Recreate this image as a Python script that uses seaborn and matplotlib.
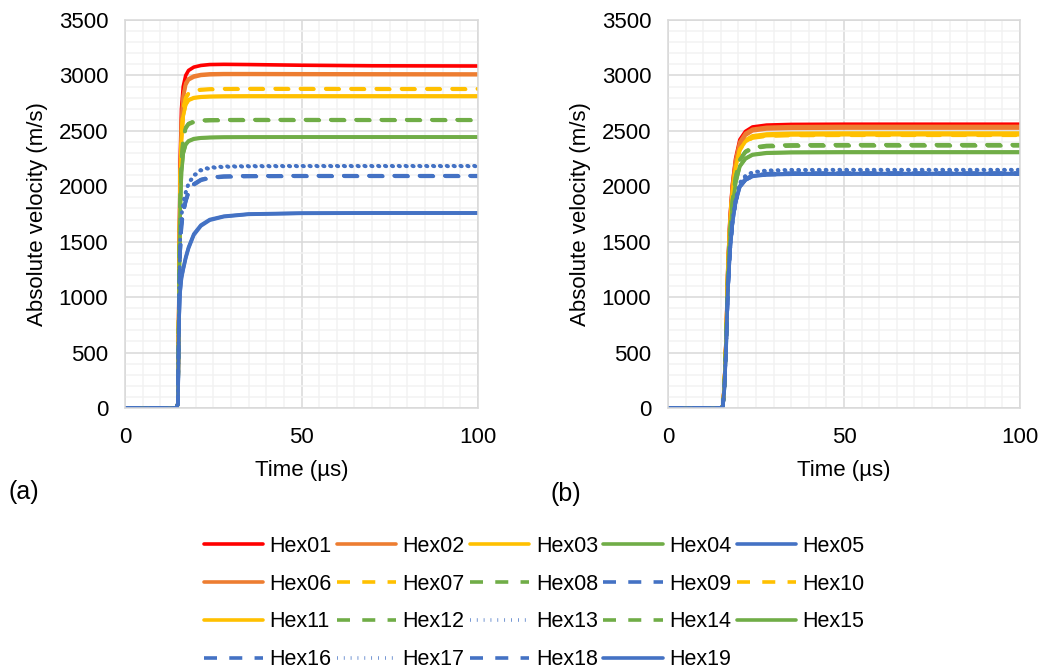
import numpy as np
import pandas as pd
import matplotlib
matplotlib.use("Agg")
import matplotlib.pyplot as plt
from matplotlib.lines import Line2D
from matplotlib.ticker import MultipleLocator
from matplotlib import font_manager
import seaborn as sns

sns.set_theme(style="white")
plt.rcParams['font.family'] = ['Liberation Sans', 'DejaVu Sans']
plt.rcParams['text.color'] = 'black'
plt.rcParams['axes.labelcolor'] = 'black'

series_names = ["Hex%02d" % i for i in range(1, 20)]

# time axes (µs)
time_a = [0, 14.6, 15.0, 15.3, 15.6, 16.0, 16.5, 17.2, 18.0, 19.5, 21.5, 24, 28, 35, 50, 70, 100]
time_b = [0, 15.3, 15.6, 16.0, 16.5, 17.0, 17.6, 18.3, 19.2, 20.4, 22, 24, 28, 35, 50, 70, 100]

# panel (a) absolute velocity (m/s)
a_hex01 = [0, 0, 40, 1200, 2200, 2700, 2900, 3000, 3045, 3075, 3090, 3098, 3100, 3098, 3092, 3087, 3085]
a_hex02 = [0, 0, 40, 1150, 2100, 2600, 2820, 2930, 2970, 2995, 3008, 3014, 3016, 3016, 3015, 3014, 3013]
a_hex03 = [0, 0, 40, 1100, 1950, 2420, 2640, 2740, 2780, 2800, 2808, 2812, 2814, 2815, 2815, 2815, 2815]
a_hex04 = [0, 0, 40, 1000, 1750, 2130, 2300, 2380, 2410, 2430, 2438, 2442, 2444, 2445, 2445, 2445, 2445]
a_hex05 = [0, 0, 40, 800, 1050, 1180, 1260, 1360, 1450, 1570, 1650, 1700, 1730, 1750, 1758, 1760, 1760]
a_hex06 = [0, 0, 40, 1150, 2080, 2580, 2800, 2915, 2960, 2985, 3000, 3006, 3009, 3009, 3008, 3007, 3006]
a_hex07 = [0, 0, 40, 1100, 2000, 2480, 2700, 2800, 2840, 2862, 2873, 2878, 2880, 2881, 2881, 2880, 2880]
a_hex08 = [0, 0, 40, 1050, 1850, 2250, 2440, 2530, 2565, 2585, 2594, 2598, 2600, 2601, 2601, 2600, 2600]
a_hex09 = [0, 0, 40, 900, 1400, 1650, 1770, 1870, 1950, 2020, 2060, 2080, 2090, 2094, 2095, 2095, 2095]
a_hex10 = [0, 0, 40, 1100, 1995, 2475, 2695, 2795, 2835, 2857, 2868, 2873, 2875, 2876, 2876, 2875, 2875]
a_hex11 = [0, 0, 40, 1100, 1945, 2415, 2635, 2735, 2775, 2795, 2803, 2807, 2809, 2810, 2810, 2810, 2810]
a_hex12 = [0, 0, 40, 1050, 1850, 2250, 2440, 2530, 2565, 2585, 2594, 2598, 2600, 2600, 2600, 2600, 2600]
a_hex13 = [0, 0, 40, 950, 1500, 1750, 1860, 1950, 2030, 2100, 2150, 2170, 2180, 2184, 2185, 2185, 2185]
a_hex14 = [0, 0, 40, 1040, 1840, 2240, 2432, 2522, 2558, 2578, 2588, 2592, 2594, 2595, 2595, 2595, 2595]
a_hex15 = [0, 0, 40, 1000, 1745, 2125, 2295, 2375, 2405, 2425, 2434, 2438, 2441, 2442, 2443, 2443, 2443]
a_hex16 = [0, 0, 40, 900, 1400, 1650, 1770, 1870, 1950, 2020, 2060, 2080, 2090, 2094, 2095, 2095, 2095]
a_hex17 = [0, 0, 40, 950, 1490, 1740, 1850, 1940, 2020, 2092, 2142, 2163, 2174, 2178, 2180, 2180, 2180]
a_hex18 = [0, 0, 40, 890, 1390, 1640, 1760, 1860, 1942, 2012, 2053, 2074, 2084, 2088, 2090, 2090, 2090]
a_hex19 = [0, 0, 40, 790, 1040, 1170, 1250, 1350, 1440, 1560, 1642, 1694, 1726, 1747, 1756, 1758, 1758]

# panel (b) absolute velocity (m/s)
b_hex01 = [0, 0, 25, 205, 640, 1280, 1715, 2020, 2250, 2420, 2495, 2535, 2552, 2558, 2560, 2560, 2560]
b_hex02 = [0, 0, 25, 203, 635, 1270, 1700, 2005, 2235, 2400, 2477, 2515, 2532, 2538, 2540, 2540, 2540]
b_hex03 = [0, 0, 25, 198, 620, 1240, 1660, 1960, 2180, 2345, 2418, 2455, 2472, 2478, 2480, 2480, 2480]
b_hex04 = [0, 0, 23, 185, 578, 1155, 1548, 1825, 2033, 2183, 2252, 2287, 2303, 2308, 2310, 2310, 2310]
b_hex05 = [0, 0, 21, 169, 529, 1058, 1417, 1671, 1861, 1999, 2062, 2094, 2109, 2114, 2115, 2115, 2115]
b_hex06 = [0, 0, 25, 202, 630, 1262, 1690, 1995, 2220, 2385, 2460, 2500, 2517, 2523, 2525, 2525, 2525]
b_hex07 = [0, 0, 25, 198, 618, 1235, 1655, 1950, 2175, 2335, 2408, 2445, 2462, 2468, 2470, 2470, 2470]
b_hex08 = [0, 0, 24, 190, 594, 1188, 1590, 1876, 2090, 2244, 2315, 2351, 2368, 2373, 2375, 2375, 2375]
b_hex09 = [0, 0, 21, 170, 530, 1060, 1420, 1675, 1866, 2003, 2067, 2099, 2114, 2119, 2120, 2120, 2120]
b_hex10 = [0, 0, 25, 197, 615, 1230, 1648, 1943, 2165, 2325, 2398, 2435, 2452, 2458, 2460, 2460, 2460]
b_hex11 = [0, 0, 25, 197, 616, 1232, 1652, 1947, 2170, 2330, 2403, 2440, 2457, 2463, 2465, 2465, 2465]
b_hex12 = [0, 0, 24, 190, 592, 1185, 1588, 1872, 2086, 2240, 2311, 2346, 2363, 2368, 2370, 2370, 2370]
b_hex13 = [0, 0, 22, 172, 538, 1075, 1440, 1700, 1892, 2032, 2096, 2128, 2144, 2149, 2150, 2150, 2150]
b_hex14 = [0, 0, 24, 189, 591, 1182, 1585, 1868, 2081, 2235, 2306, 2341, 2358, 2363, 2365, 2365, 2365]
b_hex15 = [0, 0, 23, 184, 576, 1152, 1544, 1821, 2028, 2178, 2247, 2282, 2298, 2303, 2305, 2305, 2305]
b_hex16 = [0, 0, 21, 169, 529, 1058, 1417, 1671, 1861, 1999, 2062, 2094, 2109, 2114, 2115, 2115, 2115]
b_hex17 = [0, 0, 21, 172, 536, 1072, 1437, 1695, 1888, 2027, 2091, 2124, 2139, 2144, 2145, 2145, 2145]
b_hex18 = [0, 0, 21, 169, 528, 1055, 1414, 1667, 1857, 1994, 2057, 2089, 2104, 2109, 2110, 2110, 2110]
b_hex19 = [0, 0, 21, 169, 528, 1055, 1414, 1667, 1857, 1994, 2057, 2089, 2104, 2109, 2110, 2110, 2110]

panel_a = [a_hex01, a_hex02, a_hex03, a_hex04, a_hex05, a_hex06, a_hex07, a_hex08, a_hex09, a_hex10,
           a_hex11, a_hex12, a_hex13, a_hex14, a_hex15, a_hex16, a_hex17, a_hex18, a_hex19]
panel_b = [b_hex01, b_hex02, b_hex03, b_hex04, b_hex05, b_hex06, b_hex07, b_hex08, b_hex09, b_hex10,
           b_hex11, b_hex12, b_hex13, b_hex14, b_hex15, b_hex16, b_hex17, b_hex18, b_hex19]

RED, ORANGE, YELLOW, GREEN, BLUE = "#FF0000", "#ED7D31", "#FFC000", "#70AD47", "#4472C4"
colors = [RED, ORANGE, YELLOW, GREEN, BLUE, ORANGE, YELLOW, GREEN, BLUE, YELLOW,
          YELLOW, GREEN, BLUE, GREEN, GREEN, BLUE, BLUE, BLUE, BLUE]
SOLID, DASH, DOT = "-", (0, (3.6, 3.4)), (0, (0.2, 1.7))
styles = [SOLID, SOLID, SOLID, SOLID, SOLID, SOLID, DASH, DASH, DASH, DASH,
          SOLID, DASH, DOT, DASH, SOLID, DASH, DOT, DASH, SOLID]
LW = 2.6

W, H = 1041, 670
fig = plt.figure(figsize=(W / 100, H / 100), dpi=100)
ax_a = fig.add_axes([125 / W, 1 - 408 / H, (478 - 125) / W, (408 - 20) / H])
ax_b = fig.add_axes([668 / W, 1 - 408 / H, (1020 - 668) / W, (408 - 20) / H])

FS = 16
for ax, t, data in [(ax_a, time_a, panel_a), (ax_b, time_b, panel_b)]:
    for name, vals, c, ls in zip(series_names, data, colors, styles):
        df = pd.DataFrame({"t": t, "v": vals})
        sns.lineplot(data=df, x="t", y="v", ax=ax, color=c, linestyle=ls,
                     linewidth=LW, label=name, legend=False, sort=False,
                     solid_capstyle="round", dash_capstyle="round")
    ax.set_xlim(0, 100)
    ax.set_ylim(0, 3500)
    ax.xaxis.set_major_locator(MultipleLocator(50))
    ax.xaxis.set_minor_locator(MultipleLocator(5))
    ax.yaxis.set_major_locator(MultipleLocator(500))
    ax.yaxis.set_minor_locator(MultipleLocator(100))
    ax.grid(which="major", color="#D9D9D9", linewidth=1.1, zorder=0)
    ax.grid(which="minor", color="#F2F2F2", linewidth=1.1, zorder=0)
    ax.set_axisbelow(True)
    for s in ax.spines.values():
        s.set_color("#D9D9D9")
        s.set_linewidth(1.1)
    ax.tick_params(axis="both", which="both", length=0, labelsize=FS, colors="black")
    ax.tick_params(axis="y", pad=12)
    ax.tick_params(axis="x", pad=14)
    ax.set_xlabel("Time (µs)", fontsize=FS, labelpad=8, color="black")
    ax.set_ylabel("Absolute velocity (m/s)", fontsize=FS, labelpad=8, color="black")

names_avail = {f.name for f in font_manager.fontManager.ttflist}
narrow = ['Liberation Sans Narrow'] if 'Liberation Sans Narrow' in names_avail else []
fig.text(8 / W, 1 - 492 / H, "(a)", fontsize=18, va="center", ha="left",
         family=narrow + ['Liberation Sans', 'DejaVu Sans'])
fig.text(550 / W, 1 - 494 / H, "(b)", fontsize=18, va="center", ha="left",
         family=narrow + ['Liberation Sans', 'DejaVu Sans'])

# legend: Excel fills rows, matplotlib fills columns
handles = [Line2D([], [], color=c, linestyle=ls, linewidth=LW) for c, ls in zip(colors, styles)]
order = [5 * r + col for col in range(5) for r in range(4) if 5 * r + col < 19]
fig.legend([handles[i] for i in order], [series_names[i] for i in order],
           loc="center", bbox_to_anchor=(534 / W, 1 - 603 / H), ncol=5, frameon=False,
           fontsize=15.5, handlelength=2.75, handletextpad=0.3, columnspacing=0.25,
           labelspacing=0.78)

fig.savefig("out.png", dpi=100)
